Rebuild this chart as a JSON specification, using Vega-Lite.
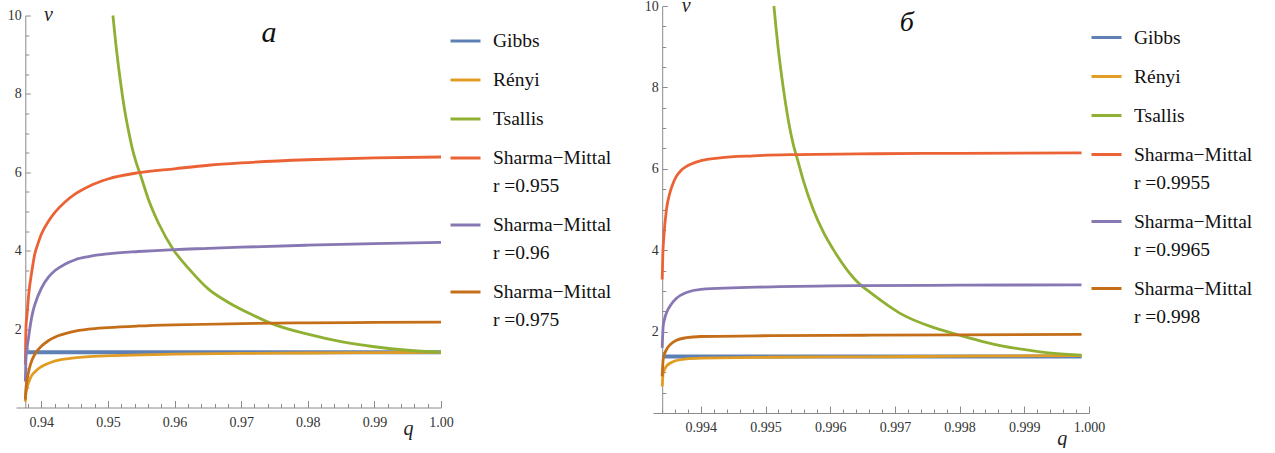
{
  "$schema": "https://vega.github.io/schema/vega-lite/v6.json",
  "background": "white",
  "padding": {"left": 7, "top": -5, "right": 0, "bottom": 0},
  "spacing": 32,
  "center": true,
  "config": {
    "view": {"stroke": null},
    "font": "Liberation Serif, Times New Roman, serif",
    "axis": {
      "grid": false,
      "domainColor": "#8a8a8a",
      "tickColor": "#8a8a8a",
      "domainWidth": 1,
      "tickWidth": 1,
      "labelFont": "Liberation Serif, Times New Roman, serif",
      "labelFontSize": 14,
      "labelColor": "#333333",
      "labelFlush": false,
      "labelOverlap": false,
      "labelBound": false,
      "titleFont": "Liberation Serif, Times New Roman, serif",
      "titleFontStyle": "italic",
      "titleFontWeight": "normal",
      "titleFontSize": 20,
      "titleColor": "#222222"
    },
    "legend": {
      "title": null,
      "orient": "right",
      "padding": 0,
      "offset": 0,
      "labelFont": "Liberation Serif, Times New Roman, serif",
      "labelFontSize": 19.5,
      "labelColor": "#111111",
      "labelBaseline": "top",
      "labelLimit": 300,
      "labelOffset": 11,
      "symbolType": "M-1,0.6L1,0.6",
      "symbolSize": 900,
      "symbolStrokeWidth": 3,
      "rowPadding": 4
    },
    "title": {
      "font": "Liberation Serif, Times New Roman, serif",
      "fontStyle": "italic",
      "fontWeight": "normal",
      "color": "#111111",
      "anchor": "middle",
      "frame": "group",
      "offset": 0,
      "baseline": "bottom"
    }
  },
  "resolve": {
    "scale": {"color": "independent", "x": "independent", "y": "independent"},
    "legend": {"color": "independent"}
  },
  "datasets": {
    "a": [
      {"series": "Gibbs", "q": 0.9376, "v": 1.41},
      {"series": "Gibbs", "q": 0.97, "v": 1.41},
      {"series": "Gibbs", "q": 1.0, "v": 1.41},
      {"series": "Rényi", "q": 0.9376, "v": 0.15},
      {"series": "Rényi", "q": 0.93765, "v": 0.3},
      {"series": "Rényi", "q": 0.93785, "v": 0.49},
      {"series": "Rényi", "q": 0.93835, "v": 0.75},
      {"series": "Rényi", "q": 0.9391, "v": 0.92},
      {"series": "Rényi", "q": 0.94, "v": 1.04},
      {"series": "Rényi", "q": 0.9411, "v": 1.13},
      {"series": "Rényi", "q": 0.9421, "v": 1.19},
      {"series": "Rényi", "q": 0.9446, "v": 1.26},
      {"series": "Rényi", "q": 0.9471, "v": 1.3},
      {"series": "Rényi", "q": 0.9521, "v": 1.33},
      {"series": "Rényi", "q": 0.96, "v": 1.36},
      {"series": "Rényi", "q": 0.97, "v": 1.38},
      {"series": "Rényi", "q": 0.98, "v": 1.39},
      {"series": "Rényi", "q": 0.99, "v": 1.4},
      {"series": "Rényi", "q": 1.0, "v": 1.41},
      {"series": "Tsallis", "q": 0.95075, "v": 10.0},
      {"series": "Tsallis", "q": 0.9512, "v": 9.25},
      {"series": "Tsallis", "q": 0.9516, "v": 8.68},
      {"series": "Tsallis", "q": 0.9521, "v": 8.05},
      {"series": "Tsallis", "q": 0.9526, "v": 7.5},
      {"series": "Tsallis", "q": 0.9531, "v": 7.05},
      {"series": "Tsallis", "q": 0.9536, "v": 6.65},
      {"series": "Tsallis", "q": 0.9542, "v": 6.27},
      {"series": "Tsallis", "q": 0.95485, "v": 5.95},
      {"series": "Tsallis", "q": 0.9561, "v": 5.3},
      {"series": "Tsallis", "q": 0.9576, "v": 4.7},
      {"series": "Tsallis", "q": 0.95985, "v": 4.02},
      {"series": "Tsallis", "q": 0.9621, "v": 3.55},
      {"series": "Tsallis", "q": 0.9651, "v": 3.02},
      {"series": "Tsallis", "q": 0.9681, "v": 2.68},
      {"series": "Tsallis", "q": 0.9716, "v": 2.37},
      {"series": "Tsallis", "q": 0.9746, "v": 2.14},
      {"series": "Tsallis", "q": 0.98, "v": 1.87},
      {"series": "Tsallis", "q": 0.985, "v": 1.68},
      {"series": "Tsallis", "q": 0.99, "v": 1.55},
      {"series": "Tsallis", "q": 0.995, "v": 1.46},
      {"series": "Tsallis", "q": 1.0, "v": 1.41},
      {"series": "Sharma−Mittal|r =0.955", "q": 0.9376, "v": 1.09},
      {"series": "Sharma−Mittal|r =0.955", "q": 0.93765, "v": 1.7},
      {"series": "Sharma−Mittal|r =0.955", "q": 0.9377, "v": 2.05},
      {"series": "Sharma−Mittal|r =0.955", "q": 0.93785, "v": 2.35},
      {"series": "Sharma−Mittal|r =0.955", "q": 0.9381, "v": 2.87},
      {"series": "Sharma−Mittal|r =0.955", "q": 0.9386, "v": 3.5},
      {"series": "Sharma−Mittal|r =0.955", "q": 0.939, "v": 3.9},
      {"series": "Sharma−Mittal|r =0.955", "q": 0.9395, "v": 4.18},
      {"series": "Sharma−Mittal|r =0.955", "q": 0.94, "v": 4.42},
      {"series": "Sharma−Mittal|r =0.955", "q": 0.9411, "v": 4.76},
      {"series": "Sharma−Mittal|r =0.955", "q": 0.9421, "v": 4.99},
      {"series": "Sharma−Mittal|r =0.955", "q": 0.9436, "v": 5.25},
      {"series": "Sharma−Mittal|r =0.955", "q": 0.9451, "v": 5.45},
      {"series": "Sharma−Mittal|r =0.955", "q": 0.9471, "v": 5.64},
      {"series": "Sharma−Mittal|r =0.955", "q": 0.95, "v": 5.83},
      {"series": "Sharma−Mittal|r =0.955", "q": 0.9546, "v": 5.99},
      {"series": "Sharma−Mittal|r =0.955", "q": 0.96, "v": 6.09},
      {"series": "Sharma−Mittal|r =0.955", "q": 0.9651, "v": 6.18},
      {"series": "Sharma−Mittal|r =0.955", "q": 0.97, "v": 6.24},
      {"series": "Sharma−Mittal|r =0.955", "q": 0.98, "v": 6.32},
      {"series": "Sharma−Mittal|r =0.955", "q": 0.99, "v": 6.37},
      {"series": "Sharma−Mittal|r =0.955", "q": 1.0, "v": 6.39},
      {"series": "Sharma−Mittal|r =0.96", "q": 0.9376, "v": 0.66},
      {"series": "Sharma−Mittal|r =0.96", "q": 0.93765, "v": 1.0},
      {"series": "Sharma−Mittal|r =0.96", "q": 0.9377, "v": 1.25},
      {"series": "Sharma−Mittal|r =0.96", "q": 0.93785, "v": 1.51},
      {"series": "Sharma−Mittal|r =0.96", "q": 0.9381, "v": 1.8},
      {"series": "Sharma−Mittal|r =0.96", "q": 0.93835, "v": 2.1},
      {"series": "Sharma−Mittal|r =0.96", "q": 0.9387, "v": 2.42},
      {"series": "Sharma−Mittal|r =0.96", "q": 0.9391, "v": 2.66},
      {"series": "Sharma−Mittal|r =0.96", "q": 0.94, "v": 3.04},
      {"series": "Sharma−Mittal|r =0.96", "q": 0.9411, "v": 3.33},
      {"series": "Sharma−Mittal|r =0.96", "q": 0.9421, "v": 3.5},
      {"series": "Sharma−Mittal|r =0.96", "q": 0.9436, "v": 3.66},
      {"series": "Sharma−Mittal|r =0.96", "q": 0.9451, "v": 3.77},
      {"series": "Sharma−Mittal|r =0.96", "q": 0.9471, "v": 3.85},
      {"series": "Sharma−Mittal|r =0.96", "q": 0.95, "v": 3.92},
      {"series": "Sharma−Mittal|r =0.96", "q": 0.9546, "v": 3.98},
      {"series": "Sharma−Mittal|r =0.96", "q": 0.96, "v": 4.03},
      {"series": "Sharma−Mittal|r =0.96", "q": 0.9651, "v": 4.06},
      {"series": "Sharma−Mittal|r =0.96", "q": 0.97, "v": 4.09},
      {"series": "Sharma−Mittal|r =0.96", "q": 0.98, "v": 4.14},
      {"series": "Sharma−Mittal|r =0.96", "q": 0.99, "v": 4.18},
      {"series": "Sharma−Mittal|r =0.96", "q": 1.0, "v": 4.21},
      {"series": "Sharma−Mittal|r =0.975", "q": 0.9376, "v": 0.2},
      {"series": "Sharma−Mittal|r =0.975", "q": 0.93765, "v": 0.38},
      {"series": "Sharma−Mittal|r =0.975", "q": 0.9377, "v": 0.5},
      {"series": "Sharma−Mittal|r =0.975", "q": 0.93785, "v": 0.7},
      {"series": "Sharma−Mittal|r =0.975", "q": 0.9381, "v": 0.92},
      {"series": "Sharma−Mittal|r =0.975", "q": 0.93835, "v": 1.09},
      {"series": "Sharma−Mittal|r =0.975", "q": 0.9391, "v": 1.38},
      {"series": "Sharma−Mittal|r =0.975", "q": 0.94, "v": 1.56},
      {"series": "Sharma−Mittal|r =0.975", "q": 0.9411, "v": 1.71},
      {"series": "Sharma−Mittal|r =0.975", "q": 0.9421, "v": 1.8},
      {"series": "Sharma−Mittal|r =0.975", "q": 0.9446, "v": 1.93},
      {"series": "Sharma−Mittal|r =0.975", "q": 0.9471, "v": 2.0},
      {"series": "Sharma−Mittal|r =0.975", "q": 0.95, "v": 2.04},
      {"series": "Sharma−Mittal|r =0.975", "q": 0.9546, "v": 2.08},
      {"series": "Sharma−Mittal|r =0.975", "q": 0.96, "v": 2.11},
      {"series": "Sharma−Mittal|r =0.975", "q": 0.97, "v": 2.14},
      {"series": "Sharma−Mittal|r =0.975", "q": 0.98, "v": 2.16},
      {"series": "Sharma−Mittal|r =0.975", "q": 0.99, "v": 2.17},
      {"series": "Sharma−Mittal|r =0.975", "q": 1.0, "v": 2.18}
    ],
    "b": [
      {"series": "Gibbs", "q": 0.993402, "v": 1.39},
      {"series": "Gibbs", "q": 0.9967, "v": 1.39},
      {"series": "Gibbs", "q": 0.999885, "v": 1.39},
      {"series": "Rényi", "q": 0.993402, "v": 0.65},
      {"series": "Rényi", "q": 0.993417, "v": 0.98},
      {"series": "Rényi", "q": 0.993468, "v": 1.15},
      {"series": "Rényi", "q": 0.993545, "v": 1.24},
      {"series": "Rényi", "q": 0.993623, "v": 1.29},
      {"series": "Rényi", "q": 0.993777, "v": 1.33},
      {"series": "Rényi", "q": 0.994, "v": 1.35},
      {"series": "Rényi", "q": 0.9951, "v": 1.37},
      {"series": "Rényi", "q": 0.9965, "v": 1.38},
      {"series": "Rényi", "q": 0.998, "v": 1.395},
      {"series": "Rényi", "q": 0.999885, "v": 1.41},
      {"series": "Tsallis", "q": 0.995129, "v": 10.0},
      {"series": "Tsallis", "q": 0.995196, "v": 8.95},
      {"series": "Tsallis", "q": 0.995273, "v": 8.0},
      {"series": "Tsallis", "q": 0.995351, "v": 7.2},
      {"series": "Tsallis", "q": 0.995428, "v": 6.6},
      {"series": "Tsallis", "q": 0.99549, "v": 6.25},
      {"series": "Tsallis", "q": 0.995582, "v": 5.72},
      {"series": "Tsallis", "q": 0.995737, "v": 5.0},
      {"series": "Tsallis", "q": 0.995892, "v": 4.45},
      {"series": "Tsallis", "q": 0.996046, "v": 4.02},
      {"series": "Tsallis", "q": 0.996253, "v": 3.53},
      {"series": "Tsallis", "q": 0.996459, "v": 3.16},
      {"series": "Tsallis", "q": 0.996587, "v": 3.0},
      {"series": "Tsallis", "q": 0.996896, "v": 2.64},
      {"series": "Tsallis", "q": 0.997102, "v": 2.43},
      {"series": "Tsallis", "q": 0.997618, "v": 2.09},
      {"series": "Tsallis", "q": 0.998, "v": 1.91},
      {"series": "Tsallis", "q": 0.998392, "v": 1.74},
      {"series": "Tsallis", "q": 0.998648, "v": 1.65},
      {"series": "Tsallis", "q": 0.999165, "v": 1.52},
      {"series": "Tsallis", "q": 0.999421, "v": 1.47},
      {"series": "Tsallis", "q": 0.999885, "v": 1.42},
      {"series": "Sharma−Mittal|r =0.9955", "q": 0.993402, "v": 3.28},
      {"series": "Sharma−Mittal|r =0.9955", "q": 0.993412, "v": 3.9},
      {"series": "Sharma−Mittal|r =0.9955", "q": 0.993428, "v": 4.34},
      {"series": "Sharma−Mittal|r =0.9955", "q": 0.993468, "v": 5.0},
      {"series": "Sharma−Mittal|r =0.9955", "q": 0.993521, "v": 5.41},
      {"series": "Sharma−Mittal|r =0.9955", "q": 0.993572, "v": 5.65},
      {"series": "Sharma−Mittal|r =0.9955", "q": 0.993623, "v": 5.82},
      {"series": "Sharma−Mittal|r =0.9955", "q": 0.9937, "v": 5.97},
      {"series": "Sharma−Mittal|r =0.9955", "q": 0.993777, "v": 6.06},
      {"series": "Sharma−Mittal|r =0.9955", "q": 0.994, "v": 6.2},
      {"series": "Sharma−Mittal|r =0.9955", "q": 0.994294, "v": 6.27},
      {"series": "Sharma−Mittal|r =0.9955", "q": 0.994809, "v": 6.32},
      {"series": "Sharma−Mittal|r =0.9955", "q": 0.9955, "v": 6.35},
      {"series": "Sharma−Mittal|r =0.9955", "q": 0.9967, "v": 6.37},
      {"series": "Sharma−Mittal|r =0.9955", "q": 0.998, "v": 6.38},
      {"series": "Sharma−Mittal|r =0.9955", "q": 0.999885, "v": 6.39},
      {"series": "Sharma−Mittal|r =0.9965", "q": 0.993402, "v": 1.6},
      {"series": "Sharma−Mittal|r =0.9965", "q": 0.993417, "v": 2.13},
      {"series": "Sharma−Mittal|r =0.9965", "q": 0.99344, "v": 2.32},
      {"series": "Sharma−Mittal|r =0.9965", "q": 0.993468, "v": 2.46},
      {"series": "Sharma−Mittal|r =0.9965", "q": 0.993545, "v": 2.68},
      {"series": "Sharma−Mittal|r =0.9965", "q": 0.993623, "v": 2.82},
      {"series": "Sharma−Mittal|r =0.9965", "q": 0.993777, "v": 2.96},
      {"series": "Sharma−Mittal|r =0.9965", "q": 0.994, "v": 3.04},
      {"series": "Sharma−Mittal|r =0.9965", "q": 0.9951, "v": 3.1},
      {"series": "Sharma−Mittal|r =0.9965", "q": 0.9965, "v": 3.13},
      {"series": "Sharma−Mittal|r =0.9965", "q": 0.998, "v": 3.14},
      {"series": "Sharma−Mittal|r =0.9965", "q": 0.999885, "v": 3.15},
      {"series": "Sharma−Mittal|r =0.998", "q": 0.993402, "v": 0.9},
      {"series": "Sharma−Mittal|r =0.998", "q": 0.993417, "v": 1.31},
      {"series": "Sharma−Mittal|r =0.998", "q": 0.99344, "v": 1.46},
      {"series": "Sharma−Mittal|r =0.998", "q": 0.993468, "v": 1.56},
      {"series": "Sharma−Mittal|r =0.998", "q": 0.993545, "v": 1.71},
      {"series": "Sharma−Mittal|r =0.998", "q": 0.993623, "v": 1.79},
      {"series": "Sharma−Mittal|r =0.998", "q": 0.993777, "v": 1.85},
      {"series": "Sharma−Mittal|r =0.998", "q": 0.994, "v": 1.88},
      {"series": "Sharma−Mittal|r =0.998", "q": 0.9951, "v": 1.9},
      {"series": "Sharma−Mittal|r =0.998", "q": 0.9965, "v": 1.91},
      {"series": "Sharma−Mittal|r =0.998", "q": 0.998, "v": 1.92},
      {"series": "Sharma−Mittal|r =0.998", "q": 0.999885, "v": 1.93}
    ]
  },
  "hconcat": [
    {
      "width": 425,
      "height": 392,
      "data": {"name": "a"},
      "title": {"text": "a", "fontSize": 30, "dx": 40.5, "dy": 47},
      "encoding": {
        "x": {
          "field": "q", "type": "quantitative",
          "scale": {"domain": [0.9362, 1.0], "nice": false, "zero": false},
          "axis": {
            "values": [0.938, 0.94, 0.942, 0.944, 0.946, 0.948, 0.95, 0.952, 0.954, 0.956, 0.958, 0.96, 0.962, 0.964, 0.966, 0.968, 0.97, 0.972, 0.974, 0.976, 0.978, 0.98, 0.982, 0.984, 0.986, 0.988, 0.99, 0.992, 0.994, 0.996, 0.998, 1.0],
            "labelExpr": "abs(datum.value*100 - round(datum.value*100)) < 0.01 ? format(datum.value, '.2f') : ''",
            "tickSize": {"condition": {"test": "abs(datum.value*100 - round(datum.value*100)) < 0.01", "value": -7}, "value": -4},
            "labelFont": "Liberation Serif, Times New Roman, serif",
            "labelFontSize": 14,
            "labelPadding": 15,
            "title": "q",
            "titleX": 392,
            "titleY": 27,
            "titleAlign": "center",
            "titleBaseline": "alphabetic"
          }
        },
        "y": {
          "field": "v", "type": "quantitative",
          "scale": {"domain": [0, 10], "nice": false},
          "axis": {
            "values": [0.5, 1, 1.5, 2, 2.5, 3, 3.5, 4, 4.5, 5, 5.5, 6, 6.5, 7, 7.5, 8, 8.5, 9, 9.5, 10],
            "labelExpr": "datum.value % 2 === 0 ? format(datum.value, 'd') : ''",
            "tickSize": {"condition": {"test": "datum.value % 2 === 0", "value": -5}, "value": -3.5},
            "labelFont": "Liberation Serif, Times New Roman, serif",
            "labelFontSize": 14,
            "labelPadding": 9,
            "offset": -9.3,
            "title": "v",
            "titleAngle": 0,
            "titleX": 22.7,
            "titleY": -1,
            "titleAlign": "center",
            "titleBaseline": "middle"
          }
        },
        "color": {
          "field": "series", "type": "nominal",
          "scale": {
            "domain": ["Gibbs", "Rényi", "Tsallis", "Sharma−Mittal|r =0.955", "Sharma−Mittal|r =0.96", "Sharma−Mittal|r =0.975"],
            "range": ["#5E81B5", "#E19C24", "#8FB032", "#EB6235", "#8778B3", "#C56E1A"]
          },
          "legend": {
            "labelExpr": "split(datum.label, '|')",
            "labelFont": "Liberation Serif, Times New Roman, serif",
            "labelFontSize": 19.5,
            "labelBaseline": "top",
            "encode": {"labels": {"update": {"lineHeight": {"value": 28}}}}
          }
        }
      },
      "layer": [
        {"transform": [{"filter": "datum.series === 'Gibbs'"}], "mark": {"type": "line", "strokeWidth": 4}},
        {"transform": [{"filter": "datum.series !== 'Gibbs'"}], "mark": {"type": "line", "strokeWidth": 2.8, "interpolate": "monotone"}}
      ]
    },
    {
      "width": 436,
      "height": 407,
      "data": {"name": "b"},
      "title": {"text": "б", "fontSize": 28, "dx": 35.7, "dy": 46},
      "encoding": {
        "x": {
          "field": "q", "type": "quantitative",
          "scale": {"domain": [0.99326, 1.0], "nice": false, "zero": false},
          "axis": {
            "values": [0.9934, 0.9936, 0.9938, 0.994, 0.9942, 0.9944, 0.9946, 0.9948, 0.995, 0.9952, 0.9954, 0.9956, 0.9958, 0.996, 0.9962, 0.9964, 0.9966, 0.9968, 0.997, 0.9972, 0.9974, 0.9976, 0.9978, 0.998, 0.9982, 0.9984, 0.9986, 0.9988, 0.999, 0.9992, 0.9994, 0.9996, 0.9998, 1.0],
            "labelExpr": "abs(datum.value*1000 - round(datum.value*1000)) < 0.01 ? format(datum.value, '.3f') : ''",
            "tickSize": {"condition": {"test": "abs(datum.value*1000 - round(datum.value*1000)) < 0.01", "value": -7}, "value": -4},
            "labelFont": "Liberation Serif, Times New Roman, serif",
            "labelFontSize": 14,
            "labelPadding": 14,
            "title": "q",
            "titleX": 408.7,
            "titleY": 31,
            "titleAlign": "center",
            "titleBaseline": "alphabetic"
          }
        },
        "y": {
          "field": "v", "type": "quantitative",
          "scale": {"domain": [0, 10], "nice": false},
          "axis": {
            "values": [0.5, 1, 1.5, 2, 2.5, 3, 3.5, 4, 4.5, 5, 5.5, 6, 6.5, 7, 7.5, 8, 8.5, 9, 9.5, 10],
            "labelExpr": "datum.value % 2 === 0 ? format(datum.value, 'd') : ''",
            "tickSize": {"condition": {"test": "datum.value % 2 === 0", "value": -5}, "value": -3.5},
            "labelFont": "Liberation Serif, Times New Roman, serif",
            "labelFontSize": 14,
            "labelPadding": 9,
            "offset": -9.2,
            "title": "v",
            "titleAngle": 0,
            "titleX": 23.5,
            "titleY": -1,
            "titleAlign": "center",
            "titleBaseline": "middle"
          }
        },
        "color": {
          "field": "series", "type": "nominal",
          "scale": {
            "domain": ["Gibbs", "Rényi", "Tsallis", "Sharma−Mittal|r =0.9955", "Sharma−Mittal|r =0.9965", "Sharma−Mittal|r =0.998"],
            "range": ["#5E81B5", "#E19C24", "#8FB032", "#EB6235", "#8778B3", "#C56E1A"]
          },
          "legend": {
            "labelExpr": "split(datum.label, '|')",
            "labelFont": "Liberation Serif, Times New Roman, serif",
            "labelFontSize": 19.5,
            "labelBaseline": "top",
            "padding": 6,
            "offset": -6,
            "encode": {"labels": {"update": {"lineHeight": {"value": 28}}}}
          }
        }
      },
      "layer": [
        {"transform": [{"filter": "datum.series === 'Gibbs'"}], "mark": {"type": "line", "strokeWidth": 4}},
        {"transform": [{"filter": "datum.series !== 'Gibbs'"}], "mark": {"type": "line", "strokeWidth": 2.8, "interpolate": "monotone"}}
      ]
    }
  ]
}
